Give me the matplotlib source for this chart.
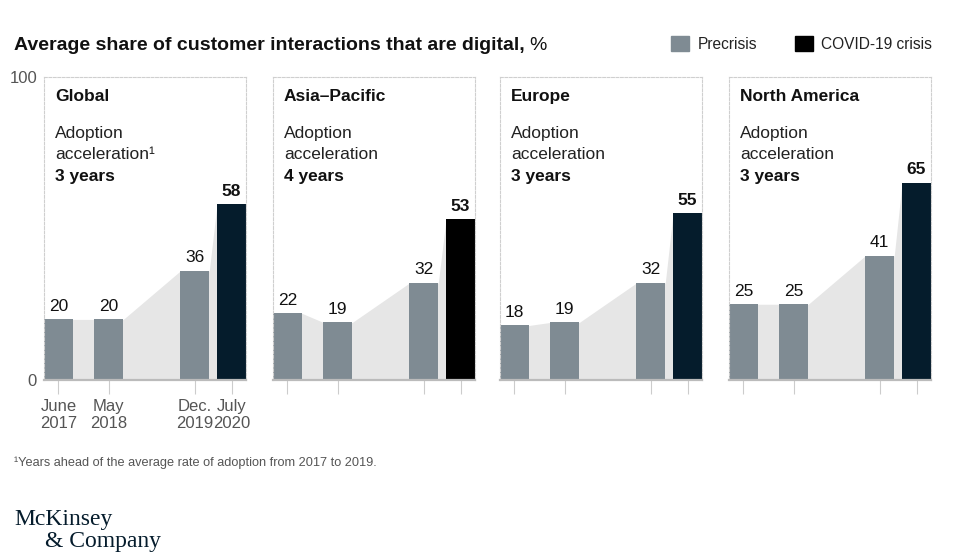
import matplotlib
matplotlib.use("Agg")
import matplotlib.pyplot as plt
from matplotlib.patches import Patch

plt.rcParams['font.family'] = ['Liberation Sans', 'DejaVu Sans']

regions = ["Global", "Asia\u2013Pacific", "Europe", "North America"]
years_ahead = [3, 4, 3, 3]
precrisis = [[20, 20, 36], [22, 19, 32], [18, 19, 32], [25, 25, 41]]
covid = [58, 53, 55, 65]
period_labels = ["June\n2017", "May\n2018", "Dec.\n2019", "July\n2020"]
positions = [0, 1.74, 4.71, 5.98]

grey = "#7f8b93"
navy = "#051c2c"
crisis_colors = [navy, "#000000", navy, navy]
fill_grey = "#e6e6e6"
box_grey = "#cfcfcf"
text_grey = "#555555"

W, H = 961, 553
fig = plt.figure(figsize=(W / 100, H / 100), dpi=100)

lefts = [44, 273, 500, 729]
pw = 202
bottom, top = 380, 77

for i, region in enumerate(regions):
    ax = fig.add_axes([lefts[i] / W, 1 - bottom / H, pw / W, (bottom - top) / H])
    vals = precrisis[i] + [covid[i]]
    cols = [grey] * 3 + [crisis_colors[i]]

    # grey area joining the bar tops
    fx, fy = [], []
    for p, v in zip(positions, vals):
        fx += [p - 0.5, p + 0.5]
        fy += [v, v]
    ax.fill_between(fx, 0, fy, color=fill_grey, lw=0, zorder=1)

    ax.bar(positions, vals, width=1, color=cols, zorder=2)
    for j, (p, v) in enumerate(zip(positions, vals)):
        ax.annotate(str(v), (p, v), xytext=(0, 4), textcoords="offset points",
                    ha="center", va="bottom", fontsize=12.5, color="#111111",
                    fontweight="bold" if j == 3 else "normal")

    ax.set_xlim(positions[0] - 0.5, positions[-1] + 0.5)
    ax.set_ylim(0, 100)
    for s in ["top", "left", "right"]:
        ax.spines[s].set_linestyle((0, (2.5, 1.5)))
        ax.spines[s].set_color(box_grey)
        ax.spines[s].set_linewidth(0.8)
    ax.spines["bottom"].set_color("#bbbbbb")
    ax.spines["bottom"].set_linewidth(1.6)

    ax.set_xticks(positions)
    ax.tick_params(axis="x", length=10, color="#cccccc", width=0.8, pad=4)
    if i == 0:
        ax.set_xticklabels(period_labels, fontsize=12, color=text_grey,
                           linespacing=1.15)
        ax.set_yticks([0, 100])
        ax.tick_params(axis="y", length=0, pad=5, labelsize=12, labelcolor=text_grey)
    else:
        ax.set_xticklabels([])
        ax.set_yticks([])

    tx = 11 / pw
    ax.text(tx, 0.934, region, transform=ax.transAxes, fontsize=12.5,
            fontweight="bold", va="center", color="#111111")
    ax.text(tx, 0.812, "Adoption", transform=ax.transAxes, fontsize=12.5,
            va="center", color="#222222")
    ax.text(tx, 0.743, "acceleration\u00b9" if i == 0 else "acceleration",
            transform=ax.transAxes, fontsize=12.5, va="center", color="#222222")
    ax.text(tx, 0.673, f"{years_ahead[i]} years", transform=ax.transAxes,
            fontsize=12.5, fontweight="bold", va="center", color="#111111")

# title: bold part then regular %
t = fig.text(14 / W, 1 - 45 / H, "Average share of customer interactions that are digital,",
             fontsize=14, fontweight="bold", va="center", color="#111111")
fig.canvas.draw()
bb = t.get_window_extent(fig.canvas.get_renderer())
fig.text((bb.x1 + 5) / W, 1 - 45 / H, "%", fontsize=14, va="center", color="#111111")

handles = [Patch(color=grey, label="Precrisis"), Patch(color="#000000", label="COVID-19 crisis")]
fig.legend(handles=handles, loc="center right", bbox_to_anchor=(946 / W, 1 - 44 / H),
           ncol=2, frameon=False, fontsize=11.2, handlelength=1.15, handleheight=1.15,
           handletextpad=0.55, columnspacing=2.4, labelcolor="#222222")

fig.text(14 / W, 1 - 463 / H, "\u00b9Years ahead of the average rate of adoption from 2017 to 2019.",
         fontsize=9.2, color=text_grey, va="center")

fig.text(14 / W, 1 - 520 / H, "McKinsey", family="Liberation Serif", fontsize=17,
         color=navy, va="center")
fig.text(45 / W, 1 - 542 / H, "& Company", family="Liberation Serif", fontsize=17,
         color=navy, va="center")

fig.savefig("out.png", dpi=100)
